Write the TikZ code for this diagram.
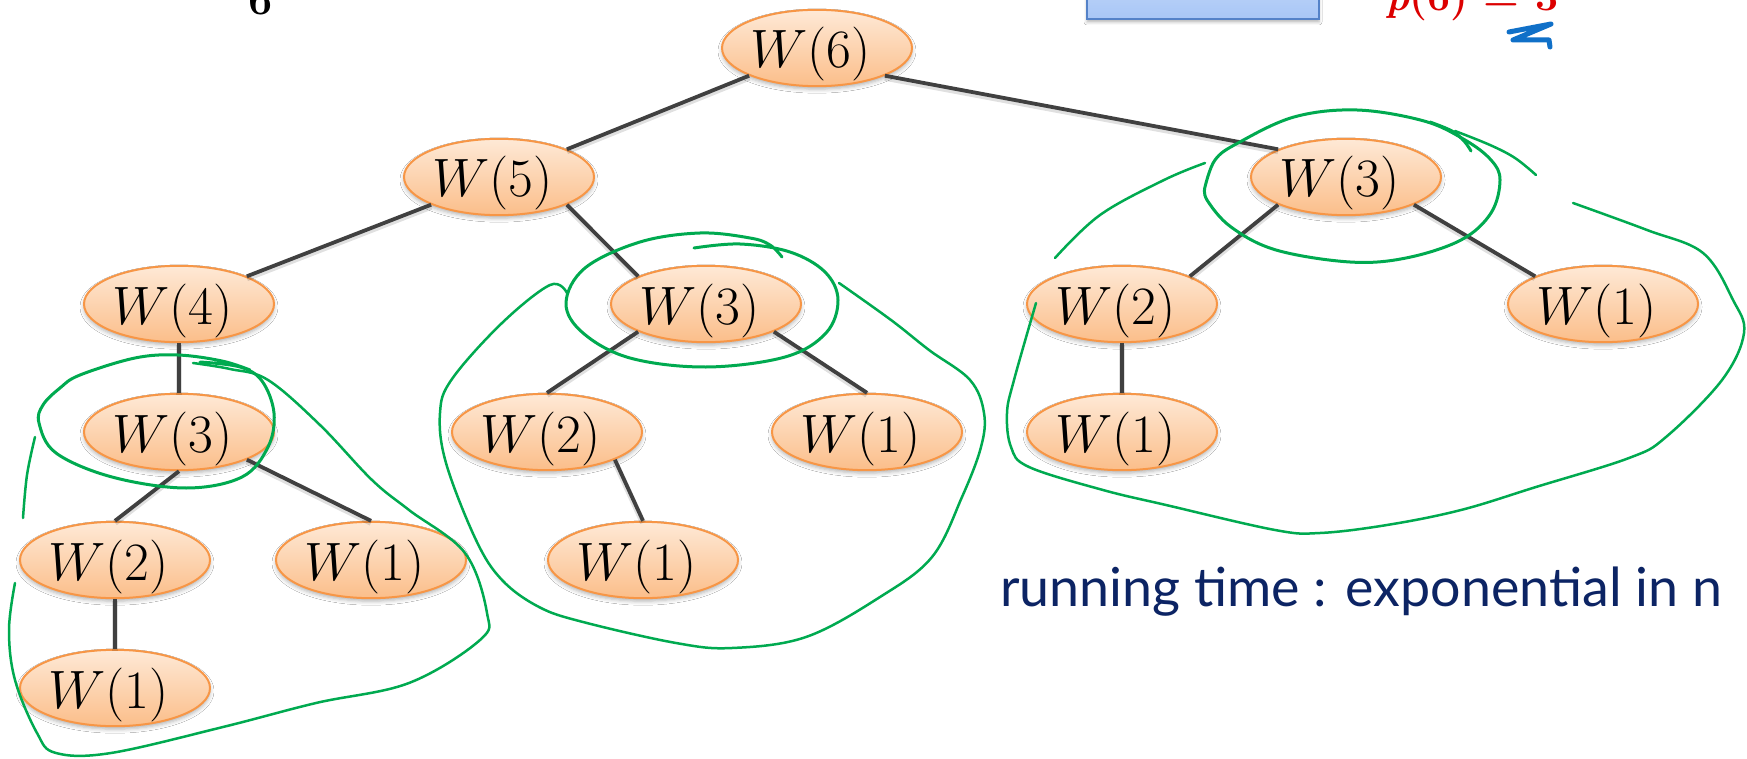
\RequirePackage{fix-cm}
\documentclass[tikz,border=0pt]{standalone}
\usepackage{fontspec}
\newfontfamily\handfont{Lato}
\usetikzlibrary{shapes.geometric,shadows.blur}

\definecolor{worange}{RGB}{247,150,70}
\definecolor{wtop}{RGB}{254,233,214}
\definecolor{wbot}{RGB}{251,190,138}
\definecolor{edgegray}{RGB}{64,64,64}
\definecolor{pengreen}{RGB}{0,170,80}
\definecolor{inkblue}{RGB}{12,36,100}
\definecolor{boxtop}{RGB}{202,221,250}
\definecolor{boxbot}{RGB}{168,198,246}
\definecolor{boxline}{RGB}{84,130,200}
\definecolor{answerred}{RGB}{220,0,0}
\definecolor{scribblue}{RGB}{16,112,200}

\tikzset{
  wnode/.style={ellipse, draw=worange, line width=2pt,
    top color=wtop, bottom color=wbot,
    minimum width=190pt, minimum height=76pt, inner sep=0pt,
    text height=47pt, text depth=7pt,
    font=\fontsize{54}{60}\selectfont,
    blur shadow={shadow xshift=0pt, shadow yshift=-3pt,
      shadow blur radius=4pt, shadow opacity=30}},
  bluebox/.style={rectangle, draw=boxline, line width=2pt,
    top color=boxtop, bottom color=boxbot, inner sep=0pt,
    blur shadow={shadow xshift=0pt, shadow yshift=-3pt,
      shadow blur radius=3pt, shadow opacity=30}},
  tedge/.style={draw=edgegray, line width=3.8pt,
    preaction={draw=black, draw opacity=0.12, line width=6pt,
      transform canvas={yshift=-2pt}}},
  pen/.style={draw=pengreen, line width=2.5pt, line cap=round, line join=round},
  thickpen/.style={pen, line width=3pt},
}

\newcommand{\wlabel}[1]{$W(#1)$\kern13pt}

\begin{document}
\begin{tikzpicture}[x=1pt, y=-1pt]
  \useasboundingbox (0,0) rectangle (1747,759);
  \clip (0,0) rectangle (1747,759);
  \fill[white] (0,0) rectangle (1747,759);

  % header pieces at the top edge
  \node[anchor=base, inner sep=0pt, font=\fontsize{43}{48}\selectfont\bfseries] (six) at (261,15) {6};
  \node[bluebox, minimum width=232pt, minimum height=59pt] (topbox) at (1203,-10.5) {};
  \node[anchor=base west, inner sep=0pt, text=answerred, font=\fontsize{41}{45}\selectfont\bfseries] (pval) at (1385,11) {\itshape p\upshape(6) = 3};
  \draw[scribblue, line width=5pt, line cap=round, line join=round]
    (1509,32) -- (1551,24) -- (1513,40) -- (1549,40) -- (1550,47);

  % recursion tree
  \node[wnode] (w6)   at (817,48)   {\wlabel{6}};
  \node[wnode] (w5)   at (499,177)  {\wlabel{5}};
  \node[wnode] (w3r)  at (1346,177) {\wlabel{3}};
  \node[wnode] (w4)   at (179,304)  {\wlabel{4}};
  \node[wnode] (w3m)  at (706,304)  {\wlabel{3}};
  \node[wnode] (w2r)  at (1122,304) {\wlabel{2}};
  \node[wnode] (w1r)  at (1603,304) {\wlabel{1}};
  \node[wnode] (w3l)  at (179,432)  {\wlabel{3}};
  \node[wnode] (w2m)  at (547,432)  {\wlabel{2}};
  \node[wnode] (w1m)  at (867,432)  {\wlabel{1}};
  \node[wnode] (w1rb) at (1122,432) {\wlabel{1}};
  \node[wnode] (w2l)  at (115,560)  {\wlabel{2}};
  \node[wnode] (w1l)  at (371,560)  {\wlabel{1}};
  \node[wnode] (w1mb) at (643,560)  {\wlabel{1}};
  \node[wnode] (w1lb) at (115,688)  {\wlabel{1}};

  \draw[tedge] (w6.south west) -- (w5.north east);
  \draw[tedge] (w6.south east) -- (w3r.north west);
  \draw[tedge] (w5.south west) -- (w4.north east);
  \draw[tedge] (w5.south east) -- (w3m.north west);
  \draw[tedge] (w4.south) -- (w3l.north);
  \draw[tedge] (w3l.south) -- (w2l.north);
  \draw[tedge] (w3l.south east) -- (w1l.north);
  \draw[tedge] (w2l.south) -- (w1lb.north);
  \draw[tedge] (w3m.south west) -- (w2m.north);
  \draw[tedge] (w3m.south east) -- (w1m.north);
  \draw[tedge] (w2m.south east) -- (w1mb.north);
  \draw[tedge] (w3r.south west) -- (w2r.north east);
  \draw[tedge] (w3r.south east) -- (w1r.north west);
  \draw[tedge] (w2r.south) -- (w1rb.north);

  % pen marks: rings around the repeated W(3) calls
  \draw[thickpen] plot[smooth, tension=0.6] coordinates {
    (694,248) (740,244) (790,252) (825,272) (838,300) (826,333) (785,357)
    (706,367) (630,358) (583,333) (566,303) (585,268) (640,242) (700,233)
    (750,238) (770,245) (782,257)};
  \draw[thickpen] plot[smooth, tension=0.6] coordinates {
    (200,362) (240,367) (262,381) (274,413) (268,447) (242,477) (186,488)
    (112,477) (56,453) (39,423) (43,405) (60,388) (80,375) (135,358) (178,355)
    (222,361) (250,370)};
  \draw[thickpen] plot[smooth, tension=0.6] coordinates {
    (1205,187) (1215,160) (1238,143) (1294,117) (1357,110) (1424,121)
    (1465,140) (1491,160) (1500,180) (1491,213) (1461,240) (1406,258)
    (1350,262) (1276,250) (1231,227) (1207,200) (1205,187)};
  \draw[thickpen] plot[smooth, tension=0.6] coordinates {
    (1430,122) (1452,131) (1464,141) (1471,151)};

  % pen marks: loops around the repeated subtrees
  \draw[pen] plot[smooth, tension=0.6] coordinates {
    (567,293) (550,285) (502,323) (452,379) (440,413) (446,463) (476,540)
    (502,580) (539,607) (583,622) (676,643) (732,648) (806,637) (880,597)
    (932,557) (962,497) (981,447) (984,413) (970,380) (929,350) (891,320)
    (839,283)};
  \draw[pen] plot[smooth, tension=0.6] coordinates {
    (193,363) (230,369) (268,380) (320,425) (372,480) (409,510) (465,553)
    (487,613) (480,640) (409,683) (316,703) (223,727) (111,753) (56,753)
    (37,733) (15,680) (9,630) (15,583)};
  \draw[pen] plot[smooth, tension=0.6] coordinates {(35,437) (27,475) (23,518)};
  \draw[pen] plot[smooth, tension=0.6] coordinates {
    (1055,258) (1100,215) (1164,180) (1205,163)};
  \draw[pen] plot[smooth, tension=0.6] coordinates {
    (1455,131) (1490,145) (1515,158) (1536,175)};
  \draw[pen] plot[smooth, tension=0.6] coordinates {
    (1573,203) (1647,230) (1703,253) (1733,300) (1744,333) (1722,380)
    (1666,437) (1629,458) (1536,487) (1461,510) (1387,525) (1320,533)
    (1275,530) (1166,505) (1103,490) (1029,467) (1011,447) (1007,413)
    (1014,380) (1036,303)};

  % handwritten remark, set to the width of its line
  \node[anchor=base west, inner sep=0pt, text=inkblue,
    font=\handfont\fontsize{54}{58}\selectfont] (note) at (1000,606)
    {\resizebox{722pt}{!}{running time : exponential in n}};
\end{tikzpicture}
\end{document}
